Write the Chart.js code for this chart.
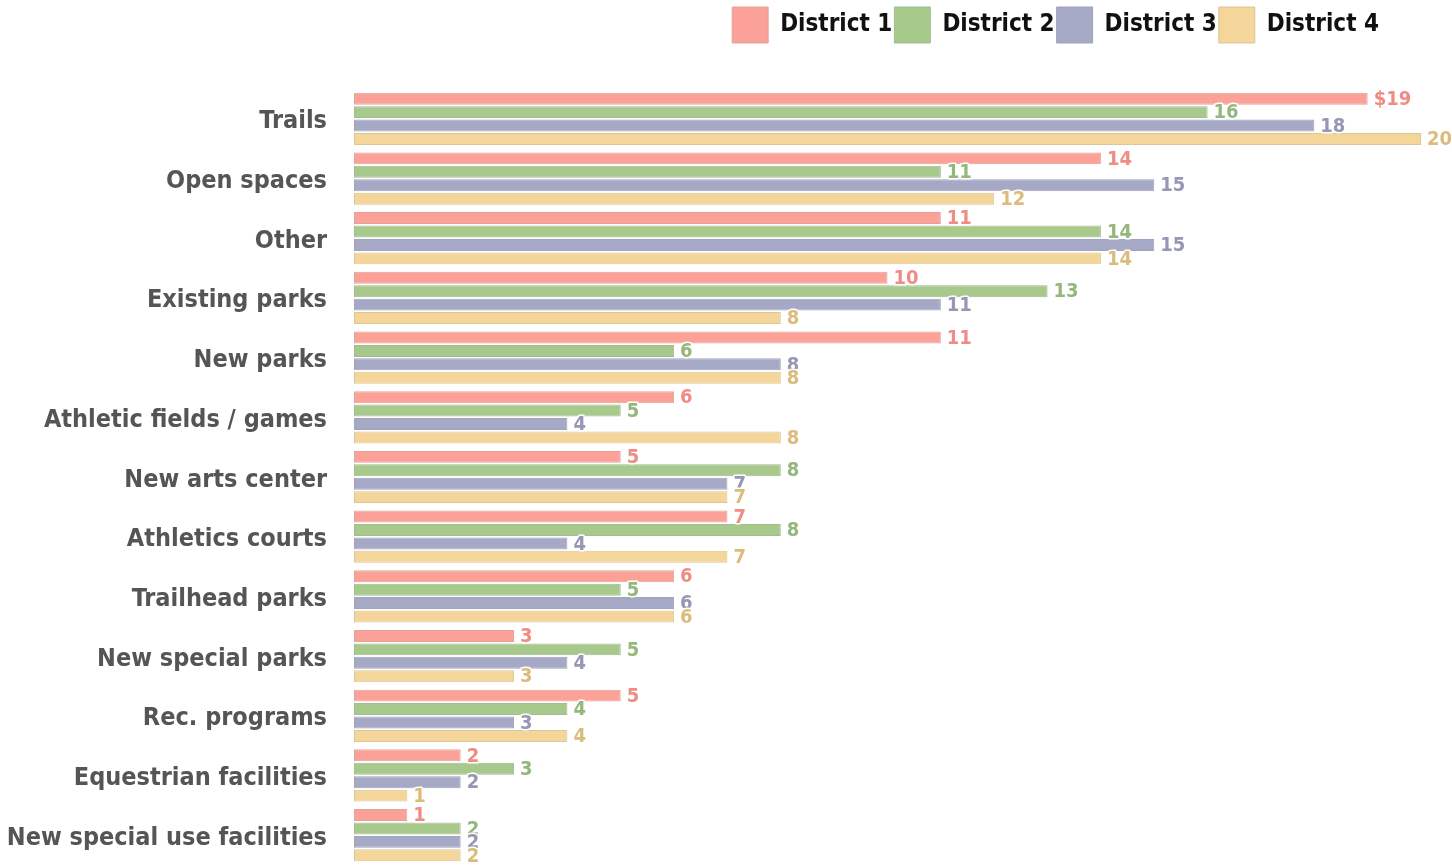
<!DOCTYPE html>
<html>
<head>
<meta charset="utf-8">
<script src="https://cdn.jsdelivr.net/npm/chart.js@4"></script>
<style>
  html, body { margin: 0; padding: 0; background: #fff; overflow: hidden; }
  #wrap { width: 1452px; height: 865px; }
</style>
</head>
<body>
<div id="wrap"><canvas id="chart"></canvas></div>
<script>
// chart data
const categories = [
  "Trails", "Open spaces", "Other", "Existing parks", "New parks",
  "Athletic fields / games", "New arts center", "Athletics courts",
  "Trailhead parks", "New special parks", "Rec. programs",
  "Equestrian facilities", "New special use facilities"
];
const districtNames = ["District 1", "District 2", "District 3", "District 4"];
const district1 = [19, 14, 11, 10, 11, 6, 5, 7, 6, 3, 5, 2, 1];
const district2 = [16, 11, 14, 13, 6, 5, 8, 8, 5, 5, 4, 3, 2];
const district3 = [18, 15, 15, 11, 8, 4, 7, 4, 6, 4, 3, 2, 2];
const district4 = [20, 12, 14, 8, 8, 8, 7, 7, 6, 3, 4, 1, 2];

const fills = ["#fba197", "#a8c98c", "#a6a9c6", "#f4d59a"];
const edges = ["#e0a39c", "#a3bb8f", "#a2a4bb", "#dcc597"];
const labelColors = ["#ef8c84", "#94b77b", "#9597b5", "#dcbc7d"];

const FONT = "'DejaVu Sans Condensed', 'DejaVu Sans', sans-serif";

// value labels at the end of each bar
const valueLabels = {
  id: "valueLabels",
  afterDatasetsDraw(chart) {
    const ctx = chart.ctx;
    ctx.save();
    ctx.font = "bold 20px " + FONT;
    ctx.textBaseline = "middle";
    ctx.textAlign = "left";
    ctx.lineJoin = "round";
    chart.data.datasets.forEach((ds, di) => {
      const meta = chart.getDatasetMeta(di);
      meta.data.forEach((bar, i) => {
        let txt = String(ds.data[i]);
        if (di === 0 && i === 0) txt = "$" + txt;
        const x = bar.x + 6, y = bar.y + 1;
        ctx.lineWidth = 3;
        ctx.strokeStyle = "#ffffff";
        ctx.strokeText(txt, x, y);
        ctx.fillStyle = labelColors[di];
        ctx.fillText(txt, x, y);
      });
    });
    ctx.restore();
  }
};

// legend sits higher and a bit left of the plot's right edge
const legendTweak = {
  id: "legendTweak",
  beforeInit(chart) {
    const lg = chart.legend;
    const fit = lg.fit;
    lg.fit = function () {
      fit.call(this);
      this.height = 84;
      if (this.lineWidths) this.lineWidths[0] += 40;
    };
  }
};

const allData = [district1, district2, district3, district4];

new Chart(document.getElementById("chart"), {
  type: "bar",
  data: {
    labels: categories,
    datasets: allData.map((d, i) => ({
      label: districtNames[i],
      data: d,
      backgroundColor: fills[i],
      borderColor: edges[i],
      borderWidth: 1,
      borderSkipped: false,
      barPercentage: 0.89,
      categoryPercentage: 0.9
    }))
  },
  options: {
    indexAxis: "y",
    responsive: true,
    maintainAspectRatio: false,
    animation: false,
    layout: { padding: { left: 0, right: 31, top: 5, bottom: 0 } },
    plugins: {
      legend: {
        position: "top",
        align: "end",
        labels: {
          boxWidth: 36,
          boxHeight: 36,
          padding: 2,
          color: "#111",
          font: { family: FONT, size: 24, weight: "bold" }
        }
      },
      tooltip: { enabled: false }
    },
    scales: {
      x: {
        min: 0,
        max: 20,
        display: false,
        grid: { display: false }
      },
      y: {
        grid: { display: false, drawTicks: false },
        border: { display: false },
        ticks: {
          padding: 27,
          labelOffset: 3,
          color: "#555555",
          font: { family: FONT, size: 25, weight: "bold" }
        },
        afterFit(scale) {
          scale.width = 354;
          scale.paddingTop = 0;
          scale.paddingBottom = 0;
        }
      }
    }
  },
  plugins: [valueLabels, legendTweak]
});
</script>
</body>
</html>
